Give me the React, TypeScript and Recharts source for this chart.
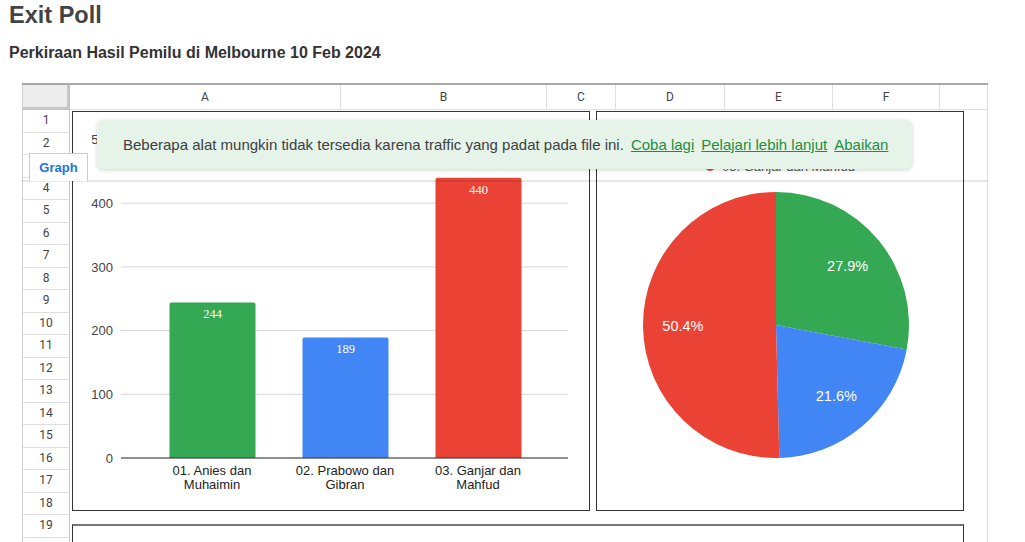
import React from 'react';
import { BarChart, Bar, XAxis, YAxis, CartesianGrid, LabelList, Cell, PieChart, Pie } from 'recharts';

const candidates = ['01. Anies dan Muhaimin', '02. Prabowo dan Gibran', '03. Ganjar dan Mahfud'];
const votes = [244, 189, 440];
const sliceColors = ['#34a853', '#4285f4', '#ea4335'];
const yTicks = [0, 100, 200, 300, 400, 500];

const colEdges = [70, 341, 547, 616, 725, 833, 940, 988];
const colLetters = ['A', 'B', 'C', 'D', 'E', 'F', ''];
const rowNumbers = Array.from({ length: 20 }, (_, i) => i + 1);

const sans = '"Liberation Sans", Arial, Helvetica, sans-serif';

const chartData = candidates.map((name, i) => ({ name, value: votes[i] }));

function CategoryTick(props: any) {
  const { x, y, payload } = props;
  const words = String(payload.value).split(' ');
  const first = words.slice(0, 3).join(' ');
  const second = words.slice(3).join(' ');
  return (
    <g transform={`translate(${x},${y})`}>
      <text textAnchor="middle" fill="#222" fontSize={13} fontFamily={sans}>
        <tspan x={0} y={8.5}>{first}</tspan>
        <tspan x={0} y={22.5}>{second}</tspan>
      </text>
    </g>
  );
}

function pieLabel(props: any) {
  const { cx, cy, midAngle, outerRadius, percent } = props;
  const rad = Math.PI / 180;
  const r = outerRadius * 0.7;
  const x = cx + r * Math.cos(-midAngle * rad);
  const y = cy + r * Math.sin(-midAngle * rad);
  return (
    <text x={x} y={y} fill="#fff" textAnchor="middle" dominantBaseline="central" fontSize={14.5} fontFamily={sans}>
      {(percent * 100).toFixed(1)}%
    </text>
  );
}

const abs = (style: React.CSSProperties): React.CSSProperties => ({ position: 'absolute', boxSizing: 'border-box', ...style });

export default function App() {
  // only the last legend row peeks out under the notice bar
  const legendItem = chartData.length - 1;
  return (
    <div style={{ position: 'relative', width: 1025, height: 542, overflow: 'hidden', background: '#fff', fontFamily: sans }}>
      <style>{'body{margin:0}'}</style>

      <div style={abs({ left: 9, top: 2.5, lineHeight: '24px', fontSize: 23.5, fontWeight: 'bold', color: '#444' })}>Exit Poll</div>
      <div style={abs({ left: 9, top: 44.5, lineHeight: '16px', fontSize: 16, fontWeight: 'bold', color: '#333' })}>
        Perkiraan Hasil Pemilu di Melbourne 10 Feb 2024
      </div>

      {/* sheet frame */}
      <div style={abs({ left: 22, top: 83, width: 966, height: 2, background: '#a8a8a8' })} />
      <div style={abs({ left: 22, top: 85, width: 1, height: 457, background: '#d0d0d0' })} />
      <div style={abs({ left: 987, top: 85, width: 1, height: 457, background: '#e0e0e0' })} />
      <div style={abs({ left: 23, top: 85, width: 47, height: 25, background: '#ececec', borderRight: '3px solid #c6c6c6', borderBottom: '3px solid #c6c6c6' })} />
      {colLetters.map((c, i) => (
        <div
          key={'c' + i}
          style={abs({
            left: colEdges[i],
            top: 85,
            width: colEdges[i + 1] - colEdges[i],
            height: 25,
            borderRight: '1px solid #e0e0e0',
            borderBottom: '1px solid #e0e0e0',
            textAlign: 'center',
            lineHeight: '24px',
            fontSize: 12,
            color: '#444',
            fontFamily: 'Roboto, sans-serif',
          })}
        >
          {c}
        </div>
      ))}
      {rowNumbers.map((n, i) => (
        <div
          key={'r' + n}
          style={abs({
            left: 23,
            top: 110 + 22.5 * i,
            width: 47,
            height: 22.5,
            borderRight: '1px solid #c4c4c4',
            borderBottom: '1px solid #e0e0e0',
            textAlign: 'center',
            lineHeight: '21px',
            fontSize: 12,
            color: '#444',
            fontFamily: 'Roboto, sans-serif',
          })}
        >
          {n === 3 || n > 19 ? '' : n}
        </div>
      ))}

      {/* bar chart */}
      <div style={abs({ left: 72, top: 111, width: 518, height: 400, border: '1px solid #333', background: '#fff' })}>
        <BarChart width={516} height={398} data={chartData} margin={{ top: 27.5, right: 21, bottom: 0, left: 0 }}>
          <CartesianGrid vertical={false} stroke="#d6d6d6" />
          <YAxis
            width={48}
            domain={[0, 500]}
            ticks={yTicks}
            axisLine={false}
            tickLine={false}
            tick={{ fill: '#444', fontSize: 13, fontFamily: sans }}
          />
          <XAxis
            dataKey="name"
            height={52}
            interval={0}
            axisLine={{ stroke: '#333' }}
            tickLine={false}
            tick={<CategoryTick />}
            padding={{ left: 24.5, right: 23.5 }}
          />
          <Bar dataKey="value" barSize={86} radius={[2, 2, 0, 0]} isAnimationActive={false}>
            {chartData.map((d, i) => (
              <Cell key={d.name} fill={sliceColors[i]} />
            ))}
            <LabelList dataKey="value" position="insideTop" offset={7} fill="#fff" fontSize={12.5} fontFamily='"Liberation Serif", "Times New Roman", serif' />
          </Bar>
        </BarChart>
      </div>

      {/* pie chart */}
      <div style={abs({ left: 596, top: 111, width: 368, height: 400, border: '1px solid #333', background: '#fff' })}>
        <div style={abs({ left: 108, top: 44, display: 'flex', alignItems: 'center', height: 20, fontSize: 13, color: '#555', whiteSpace: 'nowrap' })}>
          <span style={{ width: 10, height: 10, borderRadius: 5, background: sliceColors[legendItem], marginRight: 7, display: 'inline-block' }} />
          {chartData[legendItem].name}
        </div>
        <PieChart width={366} height={398}>
          <Pie
            data={chartData}
            dataKey="value"
            nameKey="name"
            cx={174}
            cy={208}
            outerRadius={133}
            startAngle={90}
            endAngle={-270}
            stroke="none"
            label={pieLabel}
            labelLine={false}
            isAnimationActive={false}
          >
            {chartData.map((d, i) => (
              <Cell key={d.name} fill={sliceColors[i]} />
            ))}
          </Pie>
        </PieChart>
      </div>

      {/* lower chart box */}
      <div style={abs({ left: 72, top: 524, width: 892, height: 40, borderTop: '2px solid #777', borderLeft: '1px solid #333', borderRight: '1px solid #333', background: '#fff' })} />

      {/* frozen row divider */}
      <div style={abs({ left: 22, top: 180, width: 966, height: 2, background: 'rgba(0,0,0,0.09)' })} />

      {/* sheet tab */}
      <div
        style={abs({
          left: 29,
          top: 153,
          width: 59,
          height: 28,
          background: '#fff',
          border: '1px solid #ccc',
          borderBottom: 'none',
          textAlign: 'center',
          lineHeight: '28px',
          fontSize: 13,
          fontWeight: 'bold',
          color: '#1a73e8',
        })}
      >
        Graph
      </div>

      {/* notice */}
      <div
        style={abs({
          left: 97,
          top: 120,
          width: 815,
          height: 49,
          background: '#e6f3e9',
          borderRadius: 6,
          boxShadow: '0 1px 4px rgba(0,0,0,0.18)',
          display: 'flex',
          alignItems: 'center',
          paddingLeft: 26,
          fontSize: 15,
          color: '#3c4043',
          whiteSpace: 'nowrap',
        })}
      >
        <span>Beberapa alat mungkin tidak tersedia karena traffic yang padat pada file ini.</span>
        {['Coba lagi', 'Pelajari lebih lanjut', 'Abaikan'].map((t) => (
          <span key={t} style={{ marginLeft: 7, color: '#1e8e3e', textDecoration: 'underline' }}>
            {t}
          </span>
        ))}
      </div>
    </div>
  );
}
